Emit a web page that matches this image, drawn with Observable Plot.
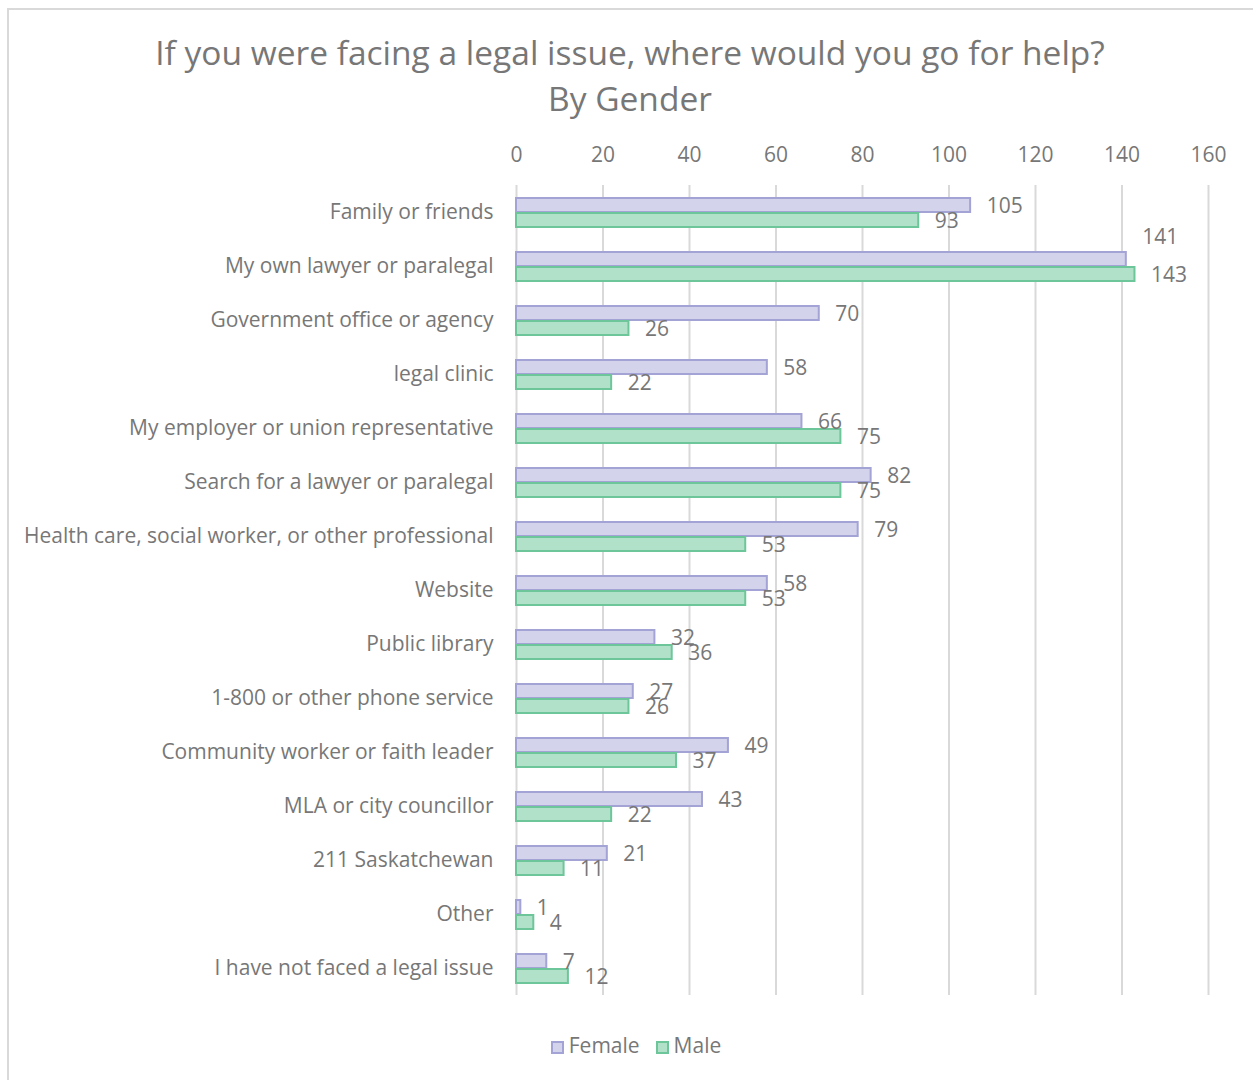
<!DOCTYPE html>
<html><head><meta charset="utf-8">
<script src="https://cdn.jsdelivr.net/npm/d3@7"></script>
<script src="https://cdn.jsdelivr.net/npm/@observablehq/plot@0.6"></script>
<style>
body{margin:0;background:#fff;font-family:"Open Sans",sans-serif;color:#777;overflow:hidden;}
#frame{position:absolute;left:7px;top:8px;width:1300px;height:1100px;border:2px solid #d9d9d9;box-sizing:border-box;}
#title{position:absolute;left:0;width:1260px;top:29px;text-align:center;font-size:33.5px;line-height:46px;color:#777;}
#chart{position:absolute;left:0;top:120px;}
#legend{position:absolute;left:0;width:1272px;top:1031px;text-align:center;font-size:21px;color:#777;}
.sw{display:inline-block;width:13px;height:13px;box-sizing:border-box;border:2px solid;margin-right:5px;vertical-align:-1px;}
.item{margin:0 8px;}
</style></head>
<body>
<div id="frame"></div>
<div id="title">If you were facing a legal issue, where would you go for help?<br>By Gender</div>
<div id="chart"></div>
<div id="legend"></div>
<script>
const categories = [
  "Family or friends",
  "My own lawyer or paralegal",
  "Government office or agency",
  "legal clinic",
  "My employer or union representative",
  "Search for a lawyer or paralegal",
  "Health care, social worker, or other professional",
  "Website",
  "Public library",
  "1-800 or other phone service",
  "Community worker or faith leader",
  "MLA or city councillor",
  "211 Saskatchewan",
  "Other",
  "I have not faced a legal issue"
];
const female = [105, 141, 70, 58, 66, 82, 79, 58, 32, 27, 49, 43, 21, 1, 7];
const male   = [93, 143, 26, 22, 75, 75, 53, 53, 36, 26, 37, 22, 11, 4, 12];
const genders = ["Female", "Male"];
const xTicks = [0, 20, 40, 60, 80, 100, 120, 140, 160];
const fills = {Female: "#d3d3ec", Male: "#b1e2c9"};
const strokes = {Female: "#a3a3d6", Male: "#6dc59a"};

const data = [];
categories.forEach((c, i) => {
  // near the right edge a female label next to a slightly longer male bar is lifted above its bar, as the source does
  const lift = male[i] > female[i] && male[i] - female[i] < 5 && female[i] >= 100;
  data.push({category: c, gender: "Female", value: female[i], lift});
  data.push({category: c, gender: "Male", value: male[i], lift: false});
});

const chart = Plot.plot({
  width: 1253,
  height: 900,
  marginLeft: 516,
  marginRight: 45,
  marginTop: 65,
  marginBottom: 25,
  style: {fontFamily: "Open Sans, sans-serif", fontSize: "21px", color: "#777", background: "transparent"},
  x: {domain: [0, 160], axis: "top", ticks: xTicks, tickSize: 0, tickPadding: 24, label: null},
  y: {domain: genders, axis: null, paddingInner: 0, paddingOuter: 0.74},
  fy: {domain: categories, padding: 0, axis: "left", tickSize: 0, tickPadding: 23, label: null},
  facet: {data, y: "category"},
  marks: [
    Plot.ruleX(xTicks.slice(1), {stroke: "#d9d9d9", strokeWidth: 2}),
    Plot.ruleX([0], {stroke: "#d9d9d9", strokeWidth: 2}),
    Plot.barX(data, {
      x: "value", y: "gender",
      fill: d => fills[d.gender], stroke: d => strokes[d.gender], strokeWidth: 2,
      insetTop: 1, insetBottom: 0
    }),
    Plot.text(data, {
      filter: d => !d.lift,
      x: "value", y: "gender", text: d => String(d.value),
      textAnchor: "start", dx: 16, dy: 1, fill: "#777", fontSize: 21
    }),
    Plot.text(data, {
      filter: d => d.lift,
      x: "value", y: "gender", text: d => String(d.value),
      textAnchor: "start", dx: 16, dy: -22, fill: "#777", fontSize: 21
    })
  ]
});
document.getElementById("chart").appendChild(chart);

const legend = document.getElementById("legend");
genders.forEach(g => {
  const s = document.createElement("span");
  s.className = "item";
  s.innerHTML = `<span class="sw" style="background:${fills[g]};border-color:${strokes[g]}"></span>${g}`;
  legend.appendChild(s);
});
</script>
</body></html>
